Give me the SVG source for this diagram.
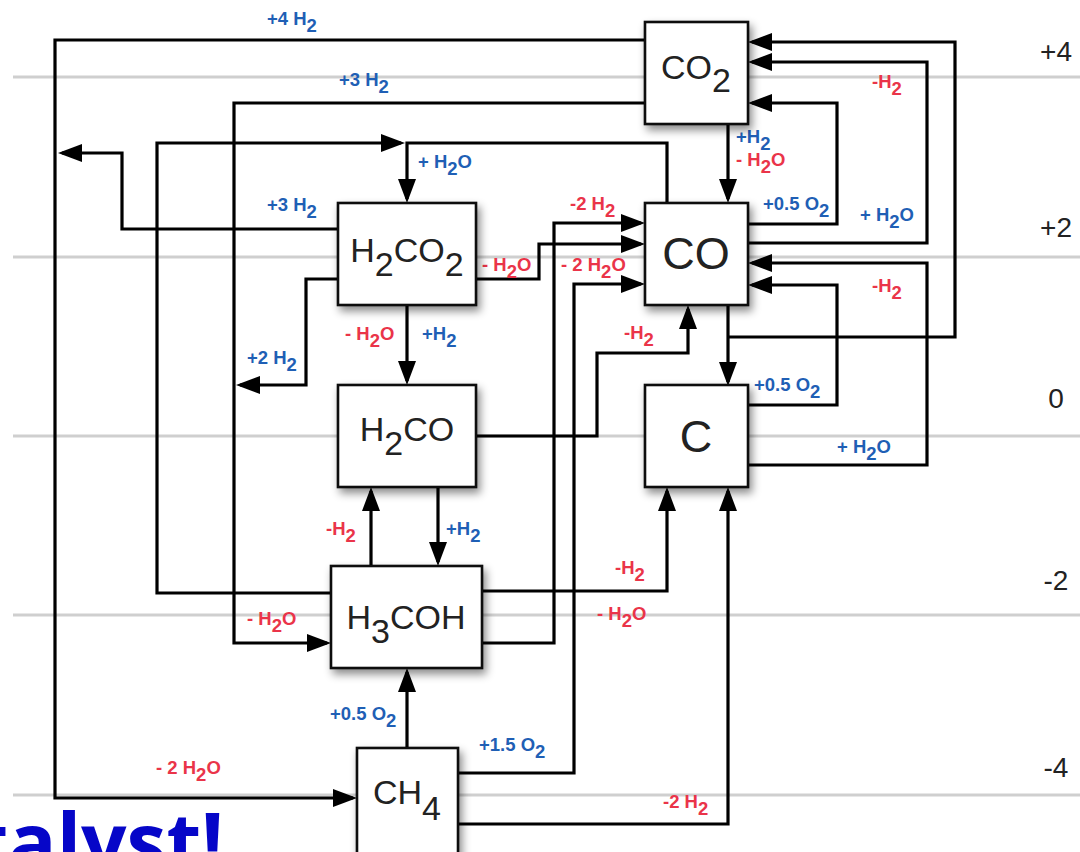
<svg xmlns="http://www.w3.org/2000/svg" width="1080" height="852" viewBox="0 0 1080 852">
<defs>
<style>
.grid{stroke:#cfcfcf;stroke-width:3;fill:none}
.box{fill:#fff;stroke:#111;stroke-width:2.6;filter:url(#sh)}
.nt{font-family:"Liberation Sans",Arial,sans-serif;font-size:34px;fill:#222;text-anchor:middle}
.nt.big{font-size:45px}
.lv{font-family:"Liberation Sans",Arial,sans-serif;font-size:28px;fill:#222;text-anchor:middle}
.lb{font-family:"Liberation Sans",Arial,sans-serif;font-size:18.5px;font-weight:bold}
.b{fill:#1f5fb5}
.r{fill:#ea3449}
.cn path{fill:none;stroke:#000;stroke-width:3.2}
.cn path.a{marker-end:url(#ah)}
.big-blue{font-family:"Open Sans","Liberation Sans",sans-serif;font-weight:bold;font-size:80px;fill:#0606c8;text-anchor:end}
</style>
<marker id="ah" markerUnits="userSpaceOnUse" markerWidth="24" markerHeight="18" refX="20" refY="9" orient="auto">
<path d="M0,0 L24,9 L0,18 z" fill="#000"/>
</marker>
<filter id="sh" x="-20%" y="-20%" width="150%" height="150%">
<feDropShadow dx="3" dy="5" stdDeviation="4" flood-color="#000" flood-opacity="0.45"/>
</filter>
</defs>
<rect width="1080" height="852" fill="#fff"/>
<g id="grid">
<line class="grid" x1="13" y1="77" x2="1080" y2="77"/>
<line class="grid" x1="13" y1="257" x2="1080" y2="257"/>
<line class="grid" x1="13" y1="436" x2="1080" y2="436"/>
<line class="grid" x1="13" y1="615" x2="1080" y2="615"/>
<line class="grid" x1="13" y1="795" x2="1080" y2="795"/>
</g>
<g id="levels">
<text class="lv" x="1056" y="61">+4</text>
<text class="lv" x="1056" y="237">+2</text>
<text class="lv" x="1056" y="408">0</text>
<text class="lv" x="1056" y="590">-2</text>
<text class="lv" x="1056" y="777">-4</text>
</g>
<g id="connectors" class="cn">
<path class="a" d="M645,40 H55 V798 H353"/>
<path class="a" d="M645,103 H234 V643 H327"/>
<path class="a" d="M331,593 H157 V143 H401"/>
<path class="a" d="M667,203 V143 H407 V199"/>
<path class="a" d="M338,229 H122 V153 H62"/>
<path class="a" d="M338,279 H306 V385 H240"/>
<path class="a" d="M407,305 V381"/>
<path class="a" d="M476,279 H539 V244 H641"/>
<path class="a" d="M482,643 H554 V223 H641"/>
<path class="a" d="M458,773 H574 V284 H641"/>
<path class="a" d="M476,436 H597 V353 H688 V309"/>
<path class="a" d="M728,305 V382"/>
<path class="a" d="M728,337 H955 V42 H752"/>
<path class="a" d="M748,224 H837 V103 H752"/>
<path class="a" d="M748,243 H927 V62 H752"/>
<path class="a" d="M748,405 H837 V285 H752"/>
<path class="a" d="M748,465 H927 V263 H752"/>
<path class="a" d="M482,591 H667 V491"/>
<path class="a" d="M458,824 H728 V491"/>
<path class="a" d="M371,566 V491"/>
<path class="a" d="M438,487 V562"/>
<path class="a" d="M407,748 V672"/>
<path class="a" d="M728,124 V199"/>
</g>
<g id="labels">
<text class="lb b" x="267" y="25">+4 H<tspan dy="7">2</tspan></text>
<text class="lb b" x="339" y="86">+3 H<tspan dy="7">2</tspan></text>
<text class="lb b" x="418" y="168">+ H<tspan dy="7">2</tspan><tspan dy="-7">O</tspan></text>
<text class="lb b" x="267" y="211">+3 H<tspan dy="7">2</tspan></text>
<text class="lb r" x="872" y="88">-H<tspan dy="7">2</tspan></text>
<text class="lb b" x="736" y="143">+H<tspan dy="7">2</tspan></text>
<text class="lb r" x="736" y="166">- H<tspan dy="7">2</tspan><tspan dy="-7">O</tspan></text>
<text class="lb b" x="763" y="210">+0.5 O<tspan dy="7">2</tspan></text>
<text class="lb b" x="860" y="221">+ H<tspan dy="7">2</tspan><tspan dy="-7">O</tspan></text>
<text class="lb r" x="570" y="210">-2 H<tspan dy="7">2</tspan></text>
<text class="lb r" x="482" y="271">- H<tspan dy="7">2</tspan><tspan dy="-7">O</tspan></text>
<text class="lb r" x="561" y="271">- 2 H<tspan dy="7">2</tspan><tspan dy="-7">O</tspan></text>
<text class="lb r" x="872" y="292">-H<tspan dy="7">2</tspan></text>
<text class="lb r" x="345" y="340">- H<tspan dy="7">2</tspan><tspan dy="-7">O</tspan></text>
<text class="lb b" x="422" y="340">+H<tspan dy="7">2</tspan></text>
<text class="lb b" x="247" y="364">+2 H<tspan dy="7">2</tspan></text>
<text class="lb r" x="624" y="339">-H<tspan dy="7">2</tspan></text>
<text class="lb b" x="754" y="391">+0.5 O<tspan dy="7">2</tspan></text>
<text class="lb b" x="837" y="453">+ H<tspan dy="7">2</tspan><tspan dy="-7">O</tspan></text>
<text class="lb r" x="326" y="535">-H<tspan dy="7">2</tspan></text>
<text class="lb b" x="446" y="535">+H<tspan dy="7">2</tspan></text>
<text class="lb r" x="615" y="574">-H<tspan dy="7">2</tspan></text>
<text class="lb r" x="597" y="620">- H<tspan dy="7">2</tspan><tspan dy="-7">O</tspan></text>
<text class="lb r" x="247" y="625">- H<tspan dy="7">2</tspan><tspan dy="-7">O</tspan></text>
<text class="lb b" x="330" y="720">+0.5 O<tspan dy="7">2</tspan></text>
<text class="lb b" x="479" y="751">+1.5 O<tspan dy="7">2</tspan></text>
<text class="lb r" x="156" y="774">- 2 H<tspan dy="7">2</tspan><tspan dy="-7">O</tspan></text>
<text class="lb r" x="663" y="808">-2 H<tspan dy="7">2</tspan></text>
</g>
<g id="node-CO2">
<rect class="box" x="645" y="22" width="103" height="102"/>
<text class="nt" x="696" y="79">CO<tspan dy="13">2</tspan></text>
</g>
<g id="node-CO">
<rect class="box" x="645" y="203" width="103" height="102"/>
<text class="nt big" x="696" y="269">CO</text>
</g>
<g id="node-H2CO2">
<rect class="box" x="338" y="203" width="138" height="102"/>
<text class="nt" x="407" y="262">H<tspan dy="14">2</tspan><tspan dy="-14">CO</tspan><tspan dy="14">2</tspan></text>
</g>
<g id="node-H2CO">
<rect class="box" x="338" y="385" width="138" height="102"/>
<text class="nt" x="407" y="441">H<tspan dy="14">2</tspan><tspan dy="-14">CO</tspan></text>
</g>
<g id="node-C">
<rect class="box" x="645" y="385" width="103" height="102"/>
<text class="nt big" x="696" y="452">C</text>
</g>
<g id="node-H3COH">
<rect class="box" x="331" y="566" width="151" height="102"/>
<text class="nt" x="406" y="629">H<tspan dy="14">3</tspan><tspan dy="-14">COH</tspan></text>
</g>
<g id="node-CH4">
<rect class="box" x="357" y="748" width="101" height="110"/>
<text class="nt" x="407" y="804">CH<tspan dy="16">4</tspan></text>
</g>
<text class="big-blue" x="224" y="871">talyst!</text>
</svg>
